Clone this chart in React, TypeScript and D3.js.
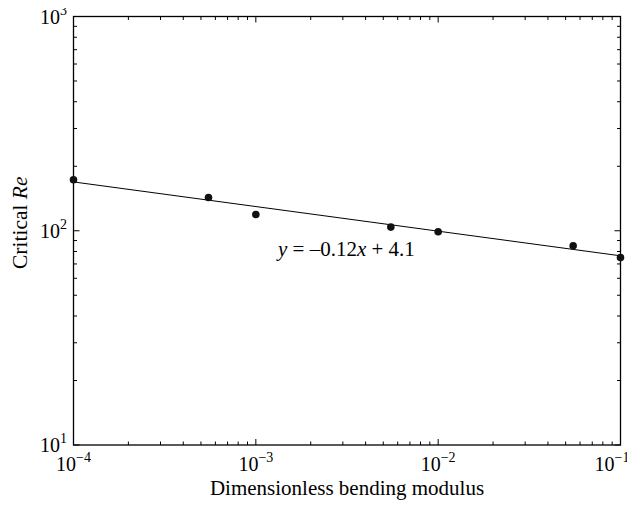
import React from "react";
import * as d3 from "d3";

const bendingModulus = [1e-4, 5.5e-4, 1e-3, 5.5e-3, 1e-2, 5.5e-2, 1e-1];
const criticalRe = [173, 143, 119, 104, 99, 85, 75];
const fitX = [1e-4, 1e-1];
const fitY = [169, 76.4];
const xTickExps = [-4, -3, -2, -1];
const yTickExps = [1, 2, 3];
const equationLabel = "y = –0.12x + 4.1";

const W = 635, H = 508;
const M = { left: 73.5, right: 620.5, top: 16.5, bottom: 445 };
const FONT = "'Liberation Serif', 'Times New Roman', serif";

export default function App() {
  const x = d3.scaleLog().domain([1e-4, 1e-1]).range([M.left, M.right]);
  const y = d3.scaleLog().domain([10, 1000]).range([M.bottom, M.top]);

  const xMinor: number[] = [];
  for (let e = -4; e < -1; e++) for (let k = 2; k <= 9; k++) xMinor.push(k * Math.pow(10, e));
  const yMinor: number[] = [];
  for (let e = 1; e < 3; e++) for (let k = 2; k <= 9; k++) yMinor.push(k * Math.pow(10, e));

  const line = d3.line<number>().x((_, i) => x(fitX[i])).y((d) => y(d));

  return (
    <div style={{ margin: -8 }}>
      <svg width={W} height={H} style={{ display: "block", background: "#fff" }} fontFamily={FONT}>
        {xMinor.map((v, i) => (
          <g key={"xm" + i} stroke="#000" strokeWidth={1}>
            <line x1={x(v)} x2={x(v)} y1={M.bottom} y2={M.bottom - 3.5} />
            <line x1={x(v)} x2={x(v)} y1={M.top} y2={M.top + 3.5} />
          </g>
        ))}
        {yMinor.map((v, i) => (
          <g key={"ym" + i} stroke="#000" strokeWidth={1}>
            <line x1={M.left} x2={M.left + 3.5} y1={y(v)} y2={y(v)} />
            <line x1={M.right} x2={M.right - 3.5} y1={y(v)} y2={y(v)} />
          </g>
        ))}
        {xTickExps.map((e) => (
          <g key={"xM" + e} stroke="#000" strokeWidth={1}>
            <line x1={x(Math.pow(10, e))} x2={x(Math.pow(10, e))} y1={M.bottom} y2={M.bottom - 6} />
            <line x1={x(Math.pow(10, e))} x2={x(Math.pow(10, e))} y1={M.top} y2={M.top + 6} />
          </g>
        ))}
        {yTickExps.map((e) => (
          <g key={"yM" + e} stroke="#000" strokeWidth={1}>
            <line x1={M.left} x2={M.left + 6} y1={y(Math.pow(10, e))} y2={y(Math.pow(10, e))} />
            <line x1={M.right} x2={M.right - 6} y1={y(Math.pow(10, e))} y2={y(Math.pow(10, e))} />
          </g>
        ))}
        <rect x={M.left} y={M.top} width={M.right - M.left} height={M.bottom - M.top}
          fill="none" stroke="#000" strokeWidth={1.3} />
        <path d={line(fitY) || ""} fill="none" stroke="#000" strokeWidth={1} />
        {bendingModulus.map((v, i) => (
          <circle key={"p" + i} cx={x(v)} cy={y(criticalRe[i])} r={3.8} fill="#111" />
        ))}
        {xTickExps.map((e) => (
          <text key={"xl" + e} x={Math.min(x(Math.pow(10, e)), 612)} y={471} textAnchor="middle" fontSize={20} fill="#000">
            10<tspan fontSize={14} dy={-9}>{"−" + Math.abs(e)}</tspan>
          </text>
        ))}
        {yTickExps.map((e) => (
          <text key={"yl" + e} x={67} y={y(Math.pow(10, e)) + 7} textAnchor="end" fontSize={20} fill="#000">
            10<tspan fontSize={14} dy={-9}>{String(e)}</tspan>
          </text>
        ))}
        <text x={(M.left + M.right) / 2} y={495} textAnchor="middle" fontSize={21} fill="#000">
          Dimensionless bending modulus
        </text>
        <text transform={`translate(27,${(M.top + M.bottom) / 2 - 8}) rotate(-90)`} textAnchor="middle" fontSize={21.5} fill="#000">
          Critical <tspan fontStyle="italic">Re</tspan>
        </text>
        <text x={278} y={256} fontSize={21} fill="#000">
          <tspan fontStyle="italic">{equationLabel.slice(0, 1)}</tspan>
          {equationLabel.slice(1, 9)}
          <tspan fontStyle="italic">{equationLabel.slice(9, 10)}</tspan>
          {equationLabel.slice(10)}
        </text>
      </svg>
    </div>
  );
}
